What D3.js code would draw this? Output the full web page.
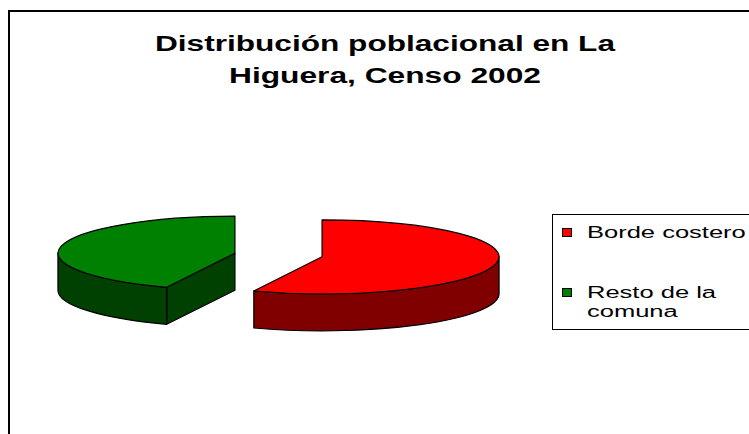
<!DOCTYPE html>
<html>
<head>
<meta charset="utf-8">
<script src="https://cdn.jsdelivr.net/npm/d3@7"></script>
<style>
  body { margin: 0; background: #fff; }
  text { font-family: "Liberation Sans", Arial, sans-serif; }
</style>
</head>
<body>
<svg width="749" height="434"></svg>
<script>
// chart data
var categories = ["Borde costero", "Resto de la comuna"];
var values = [56.3, 43.7];
var legendLines = [["Borde costero"], ["Resto de la", "comuna"]];
var titleLines = ["Distribución poblacional en La", "Higuera, Censo 2002"];

var topColor = d3.scaleOrdinal().domain(categories).range(["#ff0000", "#008000"]);
var sideColor = d3.scaleOrdinal().domain(categories).range(["#800000", "#004000"]);

var svg = d3.select('svg');

// outer frame (runs off the right and bottom of the picture)
svg.append('rect')
    .attr('x', 9).attr('y', 11)
    .attr('width', 800).attr('height', 500)
    .style('fill', '#fff')
    .style('stroke', '#000')
    .style('stroke-width', 2);

// title
var titleWidths = [460, 312];
svg.selectAll('.title')
    .data(titleLines)
    .enter().append('text')
    .attr('class', 'title')
    .attr('x', 385)
    .attr('y', function(d, i) { return 51 + i * 32; })
    .attr('text-anchor', 'middle')
    .attr('textLength', function(d, i) { return titleWidths[i]; })
    .attr('lengthAdjust', 'spacingAndGlyphs')
    .style('font-size', '22px')
    .style('font-weight', 'bold')
    .text(function(d) { return d; });

// 3d pie
var cx = 278.5, cy = 255, rx = 177, ry = 37, depth = 37, explode = 0.251;

var pie = d3.pie().sort(null).value(function(d) { return d.value; });
var slices = pie(categories.map(function(c, i) { return {name: c, value: values[i]}; }));

function pt(c, a, dy) {
    return [c[0] + rx * Math.sin(a), c[1] - ry * Math.cos(a) + (dy || 0)];
}

var g = svg.append('g');

slices.forEach(function(s) {
    var a0 = s.startAngle, a1 = s.endAngle, mid = (a0 + a1) / 2;
    var c = [cx + explode * rx * Math.sin(mid), cy - explode * ry * Math.cos(mid)];
    var cb = [c[0], c[1] + depth];
    var name = s.data.name;
    var sg = g.append('g').attr('class', 'slice');

    // cut faces that look toward the viewer
    [[a0, Math.sin(a0) < -1e-6], [a1, Math.sin(a1) > 1e-6]].forEach(function(f) {
        if (!f[1]) return;
        var p = pt(c, f[0]), pb = pt(c, f[0], depth);
        sg.append('path')
            .attr('d', 'M' + c + 'L' + p + 'L' + pb + 'L' + cb + 'Z')
            .style('fill', sideColor(name))
            .style('stroke', '#000')
            .style('stroke-width', 1.2)
            .style('stroke-linejoin', 'round');
    });

    // outer wall, front half only
    var b0 = Math.max(a0, Math.PI / 2), b1 = Math.min(a1, 3 * Math.PI / 2);
    if (b1 > b0) {
        sg.append('path')
            .attr('d', 'M' + pt(c, b0) +
                'A' + rx + ',' + ry + ' 0 0 1 ' + pt(c, b1) +
                'L' + pt(c, b1, depth) +
                'A' + rx + ',' + ry + ' 0 0 0 ' + pt(c, b0, depth) + 'Z')
            .style('fill', sideColor(name))
            .style('stroke', '#000')
            .style('stroke-width', 1.2)
            .style('stroke-linejoin', 'round');
    }

    // top face
    var large = (a1 - a0) > Math.PI ? 1 : 0;
    sg.append('path')
        .attr('d', 'M' + c + 'L' + pt(c, a0) +
            'A' + rx + ',' + ry + ' 0 ' + large + ' 1 ' + pt(c, a1) + 'Z')
        .style('fill', topColor(name))
        .style('stroke', '#000')
        .style('stroke-width', 1.2)
        .style('stroke-linejoin', 'round');
});

// legend
svg.append('rect')
    .attr('x', 552.5).attr('y', 214.5)
    .attr('width', 230).attr('height', 115)
    .style('fill', '#fff')
    .style('stroke', '#000')
    .style('stroke-width', 1);

var pxPerEm = 25.5;
var legend = svg.selectAll('.legend')
    .data(categories)
    .enter().append('g')
    .attr('class', 'legend')
    .attr('transform', function(d, i) { return 'translate(0,' + (i * 60) + ')'; });

legend.append('rect')
    .attr('x', 562.5).attr('y', 228.5)
    .attr('width', 9).attr('height', 8)
    .style('fill', function(d) { return topColor(d); })
    .style('stroke', '#000')
    .style('stroke-width', 1);

legend.each(function(d, i) {
    var el = d3.select(this);
    legendLines[i].forEach(function(line, j) {
        var t = el.append('text')
            .attr('x', 587)
            .attr('y', 238 + j * 19)
            .style('font-size', '16px')
            .text(line);
        var w = t.node().getComputedTextLength();
        t.attr('textLength', w / 16 * pxPerEm)
            .attr('lengthAdjust', 'spacingAndGlyphs');
    });
});
</script>
</body>
</html>
